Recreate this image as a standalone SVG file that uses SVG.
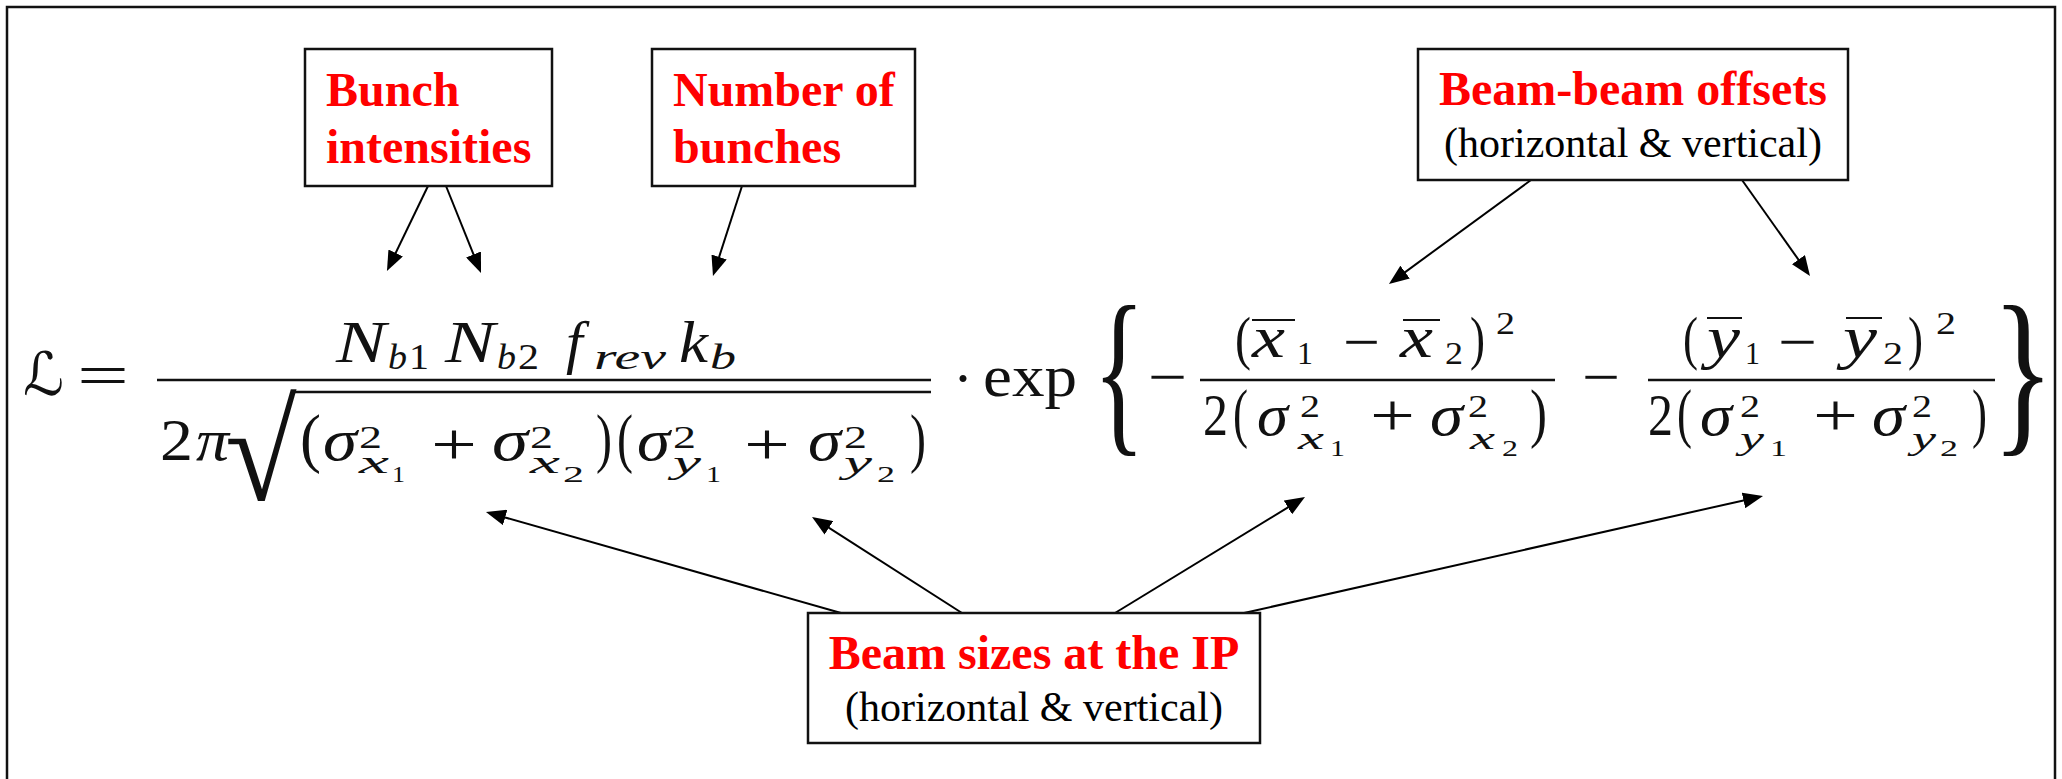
<svg xmlns="http://www.w3.org/2000/svg" width="2062" height="779" viewBox="0 0 2062 779">
<style>
.frame{fill:none;stroke:#111;stroke-width:2.5}
.box{fill:#fff;stroke:#111;stroke-width:2.5}
.t{font-family:"Liberation Serif","Times New Roman",serif;font-weight:bold;font-size:48px;fill:#ff0000}
.n{font-family:"Liberation Serif","Times New Roman",serif;font-size:42px;fill:#000}
.c{text-anchor:middle}
.f text{font-family:"Liberation Serif","DejaVu Serif",serif;fill:#111}
.m{font-size:60px}
.p{font-size:66px}
.s{font-size:32px}
.sn{font-size:36px}
.ss{font-size:24px}
.i{font-style:italic}
.bar{stroke:#111;stroke-width:2.5;fill:none}
.ob{stroke:#111;stroke-width:2;fill:none}
.conn line{stroke:#000;stroke-width:2}
</style>
<defs>
<marker id="ah" markerUnits="userSpaceOnUse" markerWidth="20" markerHeight="16" viewBox="0 0 20 16" refX="16" refY="8" orient="auto">
<path d="M0,0 L20,8 L0,16 z" fill="#000"/>
</marker>
</defs>
<rect class="frame" x="7" y="7" width="2048" height="800"/>

<g id="formula" class="f">
<text class="m" x="23" y="395" textLength="41" lengthAdjust="spacingAndGlyphs" style="font-family:'DejaVu Serif','DejaVu Sans',serif">ℒ</text>
<text class="m" x="77" y="395" textLength="52" lengthAdjust="spacingAndGlyphs">=</text>
<line class="bar" x1="157" y1="380" x2="931" y2="380"/>
<text class="m i" x="336" y="362" textLength="50" lengthAdjust="spacingAndGlyphs">N</text>
<text class="sn i" x="388" y="369" textLength="19" lengthAdjust="spacingAndGlyphs">b</text>
<text class="sn" x="409" y="369" textLength="20" lengthAdjust="spacingAndGlyphs">1</text>
<text class="m i" x="445" y="362" textLength="50" lengthAdjust="spacingAndGlyphs">N</text>
<text class="sn i" x="497" y="369" textLength="19" lengthAdjust="spacingAndGlyphs">b</text>
<text class="sn" x="518" y="369" textLength="21" lengthAdjust="spacingAndGlyphs">2</text>
<text class="m i" x="566" y="362">f</text>
<text class="sn i" x="594" y="369" textLength="72" lengthAdjust="spacingAndGlyphs">rev</text>
<text class="m i" x="679" y="362" textLength="29" lengthAdjust="spacingAndGlyphs">k</text>
<text class="sn i" x="710" y="369" textLength="26" lengthAdjust="spacingAndGlyphs">b</text>
<text class="m" x="160" y="460" textLength="33" lengthAdjust="spacingAndGlyphs">2</text>
<text class="m i" x="196" y="460" textLength="33" lengthAdjust="spacingAndGlyphs">π</text>
<text transform="translate(225,500) scale(1.12,1.0)" x="0" y="0" font-size="140" textLength="64" lengthAdjust="spacingAndGlyphs">√</text>
<line class="bar" x1="293" y1="392" x2="931" y2="392"/>
<text class="p" x="300" y="460" textLength="21" lengthAdjust="spacingAndGlyphs">(</text>
<text class="m i" x="323" y="460" textLength="34" lengthAdjust="spacingAndGlyphs">σ</text>
<text class="s" x="359" y="448" textLength="23" lengthAdjust="spacingAndGlyphs">2</text>
<text class="s i" x="359" y="473" textLength="30" lengthAdjust="spacingAndGlyphs">x</text>
<text class="ss" x="392" y="482" textLength="13" lengthAdjust="spacingAndGlyphs">1</text>
<text class="m" x="431" y="464" textLength="46" lengthAdjust="spacingAndGlyphs">+</text>
<text class="m i" x="492" y="460" textLength="36" lengthAdjust="spacingAndGlyphs">σ</text>
<text class="s" x="530" y="448" textLength="23" lengthAdjust="spacingAndGlyphs">2</text>
<text class="s i" x="530" y="473" textLength="30" lengthAdjust="spacingAndGlyphs">x</text>
<text class="ss" x="563" y="482" textLength="21" lengthAdjust="spacingAndGlyphs">2</text>
<text class="p" x="596" y="460" textLength="16" lengthAdjust="spacingAndGlyphs">)</text>
<text class="p" x="617" y="460" textLength="16" lengthAdjust="spacingAndGlyphs">(</text>
<text class="m i" x="637" y="460" textLength="33" lengthAdjust="spacingAndGlyphs">σ</text>
<text class="s" x="673" y="448" textLength="23" lengthAdjust="spacingAndGlyphs">2</text>
<text class="s i" x="673" y="473" textLength="28" lengthAdjust="spacingAndGlyphs">y</text>
<text class="ss" x="706" y="482" textLength="15" lengthAdjust="spacingAndGlyphs">1</text>
<text class="m" x="744" y="464" textLength="46" lengthAdjust="spacingAndGlyphs">+</text>
<text class="m i" x="808" y="460" textLength="33" lengthAdjust="spacingAndGlyphs">σ</text>
<text class="s" x="844" y="448" textLength="23" lengthAdjust="spacingAndGlyphs">2</text>
<text class="s i" x="844" y="473" textLength="28" lengthAdjust="spacingAndGlyphs">y</text>
<text class="ss" x="877" y="482" textLength="18" lengthAdjust="spacingAndGlyphs">2</text>
<text class="p" x="910" y="460" textLength="16" lengthAdjust="spacingAndGlyphs">)</text>
<text class="m" x="953" y="398">·</text>
<text class="m" x="983" y="396" textLength="94" lengthAdjust="spacingAndGlyphs">exp</text>
<text x="1093" y="432" font-size="182" textLength="52" lengthAdjust="spacingAndGlyphs">{</text>
<text class="m" x="1148" y="397" textLength="39" lengthAdjust="spacingAndGlyphs">−</text>
<line class="bar" x1="1200" y1="380" x2="1555" y2="380"/>
<text class="m" x="1235" y="358" textLength="16" lengthAdjust="spacingAndGlyphs">(</text>
<text class="m i" x="1252" y="357" textLength="33" lengthAdjust="spacingAndGlyphs">x</text>
<line class="ob" x1="1252" y1="320" x2="1295" y2="320"/>
<text class="s" x="1297" y="364" textLength="16" lengthAdjust="spacingAndGlyphs">1</text>
<text class="m" x="1343" y="362" textLength="37" lengthAdjust="spacingAndGlyphs">−</text>
<text class="m i" x="1400" y="357" textLength="33" lengthAdjust="spacingAndGlyphs">x</text>
<line class="ob" x1="1403" y1="320" x2="1440" y2="320"/>
<text class="s" x="1445" y="364" textLength="18" lengthAdjust="spacingAndGlyphs">2</text>
<text class="m" x="1470" y="358" textLength="15" lengthAdjust="spacingAndGlyphs">)</text>
<text class="s" x="1496" y="334" textLength="19" lengthAdjust="spacingAndGlyphs">2</text>
<text class="m" x="1203" y="435" textLength="25" lengthAdjust="spacingAndGlyphs">2</text>
<text class="p" x="1233" y="435" textLength="15" lengthAdjust="spacingAndGlyphs">(</text>
<text class="m i" x="1257" y="435" textLength="31" lengthAdjust="spacingAndGlyphs">σ</text>
<text class="s" x="1300" y="417" textLength="20" lengthAdjust="spacingAndGlyphs">2</text>
<text class="s i" x="1298" y="449" textLength="26" lengthAdjust="spacingAndGlyphs">x</text>
<text class="ss" x="1330" y="456" textLength="15" lengthAdjust="spacingAndGlyphs">1</text>
<text class="m" x="1370" y="435" textLength="45" lengthAdjust="spacingAndGlyphs">+</text>
<text class="m i" x="1430" y="435" textLength="33" lengthAdjust="spacingAndGlyphs">σ</text>
<text class="s" x="1468" y="417" textLength="20" lengthAdjust="spacingAndGlyphs">2</text>
<text class="s i" x="1470" y="449" textLength="25" lengthAdjust="spacingAndGlyphs">x</text>
<text class="ss" x="1502" y="456" textLength="16" lengthAdjust="spacingAndGlyphs">2</text>
<text class="p" x="1530" y="435" textLength="17" lengthAdjust="spacingAndGlyphs">)</text>
<text class="m" x="1582" y="397" textLength="38" lengthAdjust="spacingAndGlyphs">−</text>
<line class="bar" x1="1648" y1="380" x2="1995" y2="380"/>
<text class="m" x="1683" y="358" textLength="15" lengthAdjust="spacingAndGlyphs">(</text>
<text class="m i" x="1707" y="357" textLength="33" lengthAdjust="spacingAndGlyphs">y</text>
<line class="ob" x1="1707" y1="318" x2="1742" y2="318"/>
<text class="s" x="1745" y="364" textLength="15" lengthAdjust="spacingAndGlyphs">1</text>
<text class="m" x="1778" y="362" textLength="39" lengthAdjust="spacingAndGlyphs">−</text>
<text class="m i" x="1843" y="357" textLength="34" lengthAdjust="spacingAndGlyphs">y</text>
<line class="ob" x1="1846" y1="318" x2="1882" y2="318"/>
<text class="s" x="1883" y="364" textLength="20" lengthAdjust="spacingAndGlyphs">2</text>
<text class="m" x="1908" y="358" textLength="15" lengthAdjust="spacingAndGlyphs">)</text>
<text class="s" x="1936" y="334" textLength="20" lengthAdjust="spacingAndGlyphs">2</text>
<text class="m" x="1648" y="435" textLength="25" lengthAdjust="spacingAndGlyphs">2</text>
<text class="p" x="1677" y="435" textLength="15" lengthAdjust="spacingAndGlyphs">(</text>
<text class="m i" x="1700" y="435" textLength="32" lengthAdjust="spacingAndGlyphs">σ</text>
<text class="s" x="1740" y="417" textLength="20" lengthAdjust="spacingAndGlyphs">2</text>
<text class="s i" x="1740" y="449" textLength="24" lengthAdjust="spacingAndGlyphs">y</text>
<text class="ss" x="1770" y="456" textLength="17" lengthAdjust="spacingAndGlyphs">1</text>
<text class="m" x="1813" y="435" textLength="45" lengthAdjust="spacingAndGlyphs">+</text>
<text class="m i" x="1872" y="435" textLength="33" lengthAdjust="spacingAndGlyphs">σ</text>
<text class="s" x="1912" y="417" textLength="20" lengthAdjust="spacingAndGlyphs">2</text>
<text class="s i" x="1912" y="449" textLength="24" lengthAdjust="spacingAndGlyphs">y</text>
<text class="ss" x="1940" y="456" textLength="18" lengthAdjust="spacingAndGlyphs">2</text>
<text class="p" x="1972" y="435" textLength="15" lengthAdjust="spacingAndGlyphs">)</text>
<text x="1992" y="432" font-size="182" textLength="62" lengthAdjust="spacingAndGlyphs">}</text>
</g>

<g id="connectors" class="conn">
<line x1="428" y1="186" x2="388.7" y2="267.4" marker-end="url(#ah)"/>
<line x1="446" y1="186" x2="479.5" y2="269.3" marker-end="url(#ah)"/>
<line x1="742" y1="186" x2="714.2" y2="272.2" marker-end="url(#ah)"/>
<line x1="1531" y1="180" x2="1392.2" y2="281.6" marker-end="url(#ah)"/>
<line x1="1742" y1="180" x2="1807.7" y2="272.7" marker-end="url(#ah)"/>
<line x1="841" y1="613" x2="489.8" y2="513.1" marker-end="url(#ah)"/>
<line x1="962" y1="613" x2="815.4" y2="519.2" marker-end="url(#ah)"/>
<line x1="1115" y1="613" x2="1301.6" y2="499.1" marker-end="url(#ah)"/>
<line x1="1244" y1="613" x2="1759.1" y2="496.9" marker-end="url(#ah)"/>
</g>

<g id="bunch-intensities">
<rect class="box" x="305" y="49" width="247" height="137"/>
<text class="t" x="326" y="106">Bunch</text>
<text class="t" x="326" y="163">intensities</text>
</g>
<g id="number-of-bunches">
<rect class="box" x="652" y="49" width="263" height="137"/>
<text class="t" x="673" y="106">Number of</text>
<text class="t" x="673" y="163">bunches</text>
</g>
<g id="beam-beam-offsets">
<rect class="box" x="1418" y="49" width="430" height="131"/>
<text class="t c" x="1633" y="105">Beam-beam offsets</text>
<text class="n c" x="1633" y="157">(horizontal &amp; vertical)</text>
</g>
<g id="beam-sizes">
<rect class="box" x="808" y="613" width="452" height="130"/>
<text class="t c" x="1034" y="669">Beam sizes at the IP</text>
<text class="n c" x="1034" y="721">(horizontal &amp; vertical)</text>
</g>
</svg>
